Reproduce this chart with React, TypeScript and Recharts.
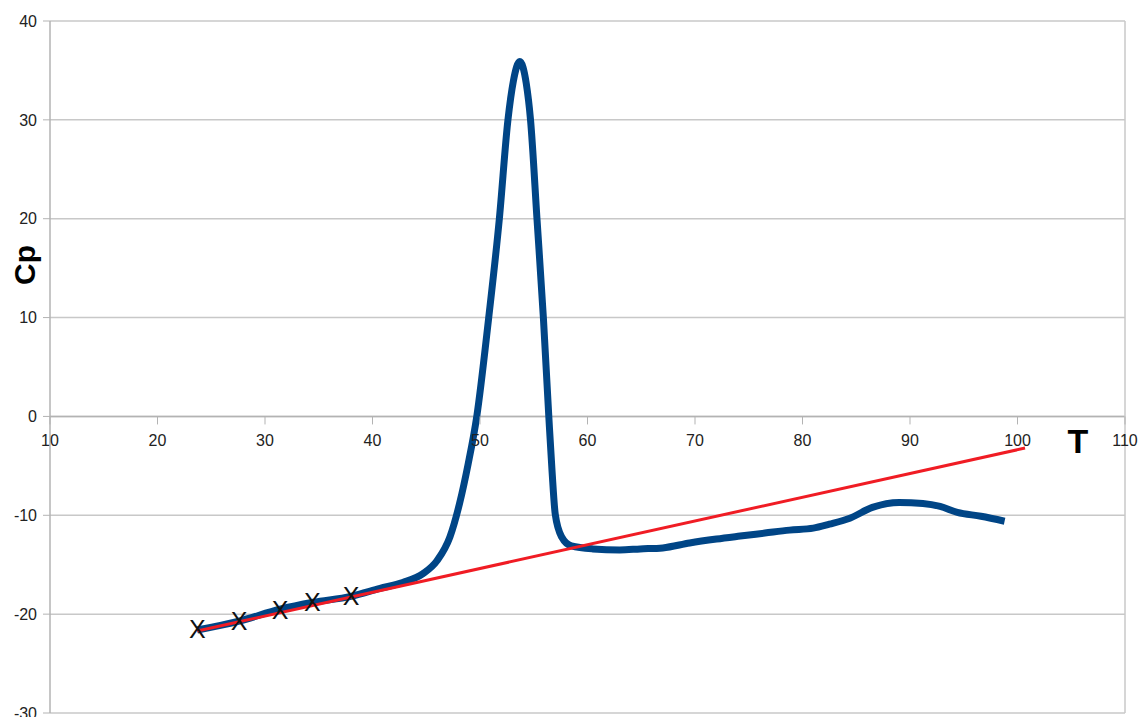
import {
  ComposedChart,
  Line,
  Scatter,
  XAxis,
  YAxis,
  CartesianGrid,
  ReferenceLine,
} from 'recharts'

// measured curve (T, Cp)
const curveT = [
  23.7, 27.6, 31.4, 34.5, 38.0, 40.7, 42.8, 44.7, 46.0, 47.2, 48.1, 48.9, 49.7,
  50.8, 51.8, 52.6, 53.1, 53.7, 54.3, 54.7, 55.3, 55.9, 56.4, 56.7, 57.0, 57.6,
  58.5, 60.5, 63.0, 64.9, 67.0, 69.5, 72.0, 74.2, 76.5, 78.8, 81.0, 82.5, 84.4, 86.5,
  89.0, 91.2, 92.8, 94.4, 96.6, 98.8,
]
const curveCp = [
  -21.6, -20.7, -19.5, -18.8, -18.2, -17.4, -16.8, -15.9, -14.6, -12.2, -8.8, -4.8, 0.0,
  9.9, 20.0, 30.0, 33.9, 35.9, 33.7, 30.0, 20.0, 9.9, 0.0, -5.5, -9.9, -12.2,
  -13.1, -13.4, -13.5, -13.4, -13.3, -12.8, -12.4, -12.1, -11.8, -11.5, -11.3, -10.9,
  -10.3, -9.2, -8.7, -8.8, -9.1, -9.7, -10.1, -10.6,
]

// baseline fit
const fitT = [23.7, 100.7]
const fitCp = [-21.7, -3.2]

// points used for the fit
const pickT = [23.7, 27.6, 31.4, 34.4, 38.0]
const pickCp = [-21.5, -20.7, -19.6, -18.8, -18.2]

const xTicks = [10, 20, 30, 40, 50, 60, 70, 80, 90, 100, 110]
const yTicks = [-30, -20, -10, 0, 10, 20, 30, 40]

const W = 1142
const H = 717
const X_AXIS_H = 4
const M = { top: 21, right: 17, bottom: 0, left: 0 }
const Y_MIN = -30
const Y_MAX = 40
const PLOT_H = H - M.top - M.bottom - X_AXIS_H
const ZERO_Y = M.top + (PLOT_H * Y_MAX) / (Y_MAX - Y_MIN)

const FONT = '"Liberation Sans", Arial, sans-serif'
const GRID = '#c8c8c8'
const AXIS = '#b3b3b3'

const curve = curveT.map((t, i) => ({ t, cp: curveCp[i] }))
const fit = fitT.map((t, i) => ({ t, cp: fitCp[i] }))
const picks = pickT.map((t, i) => ({ t, cp: pickCp[i] }))

function XTick({ x, payload }: any) {
  return (
    <g>
      <line x1={x} x2={x} y1={ZERO_Y} y2={ZERO_Y + 8} stroke={AXIS} />
      <text x={x} y={ZERO_Y + 30} textAnchor="middle" fontSize={16} fill="#222" fontFamily={FONT}>
        {payload.value}
      </text>
    </g>
  )
}

function XMark({ cx, cy }: any) {
  return (
    <text x={cx} y={cy + 9} textAnchor="middle" fontSize={25} fill="#111" fontFamily={FONT}>
      X
    </text>
  )
}

export default function App() {
  return (
    <div style={{ position: 'absolute', left: 0, top: 0, width: W, height: H, background: '#fff' }}>
      <ComposedChart width={W} height={H} margin={M}>
        <CartesianGrid vertical={false} stroke={GRID} strokeWidth={1.5} />
        <XAxis
          type="number"
          dataKey="t"
          domain={[10, 110]}
          ticks={xTicks}
          height={X_AXIS_H}
          axisLine={false}
          tickLine={false}
          tick={(p: any) => <XTick {...p} />}
          interval={0}
          allowDataOverflow
        />
        <YAxis
          type="number"
          dataKey="cp"
          domain={[Y_MIN, Y_MAX]}
          ticks={yTicks}
          width={50}
          interval={0}
          tickSize={7}
          tickMargin={6}
          axisLine={{ stroke: AXIS, strokeWidth: 1.5 }}
          tickLine={{ stroke: AXIS }}
          tick={{ fontSize: 16, fill: '#222', fontFamily: FONT }}
        />
        <ReferenceLine y={0} stroke={AXIS} strokeWidth={1.5} />
        <ReferenceLine x={110} stroke={GRID} strokeWidth={1.5} />
        <Line
          data={curve}
          dataKey="cp"
          type="monotone"
          stroke="#004586"
          strokeWidth={7}
          dot={false}
          isAnimationActive={false}
        />
        <Line
          data={fit}
          dataKey="cp"
          type="linear"
          stroke="#f01c24"
          strokeWidth={3}
          dot={false}
          isAnimationActive={false}
        />
        <Scatter data={picks} dataKey="cp" shape={(p: any) => <XMark {...p} />} isAnimationActive={false} />
      </ComposedChart>
      <div
        style={{
          position: 'absolute',
          left: 1078,
          top: 441,
          transform: 'translate(-50%, -50%)',
          fontFamily: FONT,
          fontWeight: 'bold',
          fontSize: 34,
          lineHeight: 1,
        }}
      >
        T
      </div>
      <div
        style={{
          position: 'absolute',
          left: 25,
          top: 265,
          transform: 'translate(-50%, -50%) rotate(-90deg)',
          fontFamily: FONT,
          fontWeight: 'bold',
          fontSize: 30,
          lineHeight: 1,
        }}
      >
        Cp
      </div>
    </div>
  )
}
